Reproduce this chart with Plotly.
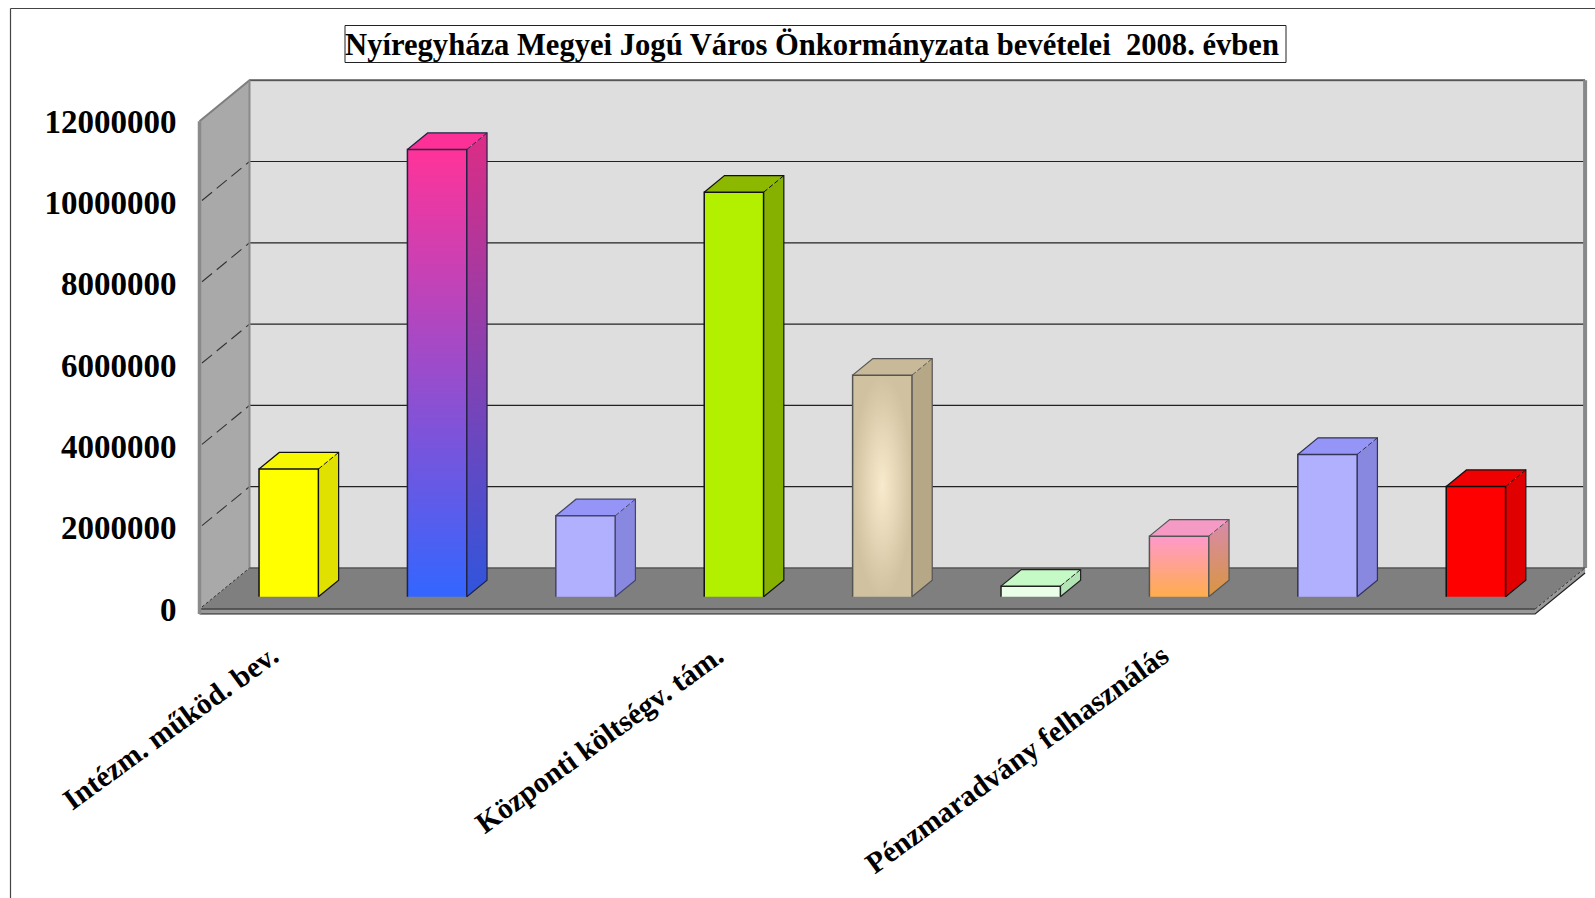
import plotly.graph_objects as go

TITLE = "Nyíregyháza Megyei Jogú Város Önkormányzata bevételei  2008. évben"
bar_positions = [0, 1, 2, 3, 4, 5, 6, 7, 8]
bar_values = [3140000, 11000000, 1990000, 9950000, 5450000, 260000, 1490000, 3500000, 2710000]
label_positions = [0, 3, 6]
label_texts = ["Intézm. működ. bev.", "Központi költségv. tám.", "Pénzmaradvány felhasználás"]
y_ticks = [0, 2000000, 4000000, 6000000, 8000000, 10000000, 12000000]

front_colors = [["#FFFF00"], ["#FF3399", "#3366FF"], ["#B0B0FF"], ["#B2F000"], ["radial", "#F8EACC", "#D0C2A0"],
                ["#EAFFE8"], ["#FF99CC", "#FFAD4D"], ["#B0B0FF"], ["#FF0000"]]
side_colors = [["#E1E100"], ["#DD2C85", "#2F55DD"], ["#8888E0"], ["#86B100"], ["#B6A887"],
               ["#B2E4B5"], ["#D88AAD", "#D8963F"], ["#8888E0"], ["#E00000"]]
top_colors = ["#F7F700", "#FC3097", "#9595F8", "#8CB800", "#C8B999", "#C5F9C5", "#F49AC4", "#9595F8", "#F00000"]
edge_colors = ["#111111", "#222244", "#444466", "#111111", "#555555", "#222222", "#555555", "#333355", "#111111"]

# Layout of the pseudo-3D projection
PITCH = 148.4          # pixels per category
PX_PER_2M = 81.3       # pixels per 2 000 000
FRONT_LEFT = 199.5
FRONT_ZERO = 609.0
PLOT_L, PLOT_R, PLOT_T, PLOT_B = 197, 1590, 78, 615
W, H = 1595, 898
DEPTH_X = 50 / PITCH
DEPTH_Y = 41 / PX_PER_2M * 2000000
SLAB = 5 / PX_PER_2M * 2000000
BAR_HALF = 0.2
BAR_D0, BAR_D1 = 0.30, 0.705
CAT_LO, CAT_HI = -0.5, 8.5
VAL_TOP = 12000000


def pr(c, v, d=0.0):
    return c + d * DEPTH_X, v + d * DEPTH_Y


def to_cat(px):
    return (px - FRONT_LEFT) / PITCH - 0.5


def to_val(py):
    return (FRONT_ZERO - py) / PX_PER_2M * 2000000


fig = go.Figure()


def poly(points, fill=None, line=None, width=0, closed=True, dash=None):
    xs = [p[0] for p in points]
    ys = [p[1] for p in points]
    if closed:
        xs.append(xs[0])
        ys.append(ys[0])
    kw = dict(x=xs, y=ys, mode="lines", hoverinfo="skip", showlegend=False, cliponaxis=False)
    if fill is not None:
        kw["fill"] = "toself"
        if isinstance(fill, list):
            if fill[0] == "radial":
                kw["fillgradient"] = dict(type="radial", colorscale=[[0, fill[1]], [1, fill[2]]])
                kw["fillcolor"] = fill[2]
            elif len(fill) == 2:
                kw["fillgradient"] = dict(type="vertical", colorscale=[[0, fill[1]], [1, fill[0]]])
            else:
                kw["fillcolor"] = fill[0]
        else:
            kw["fillcolor"] = fill
    kw["line"] = dict(width=width, color=line or "rgba(0,0,0,0)")
    if dash:
        kw["line"]["dash"] = dash
    fig.add_trace(go.Scatter(**kw))


# Back wall
poly([pr(CAT_LO, 0, 1), pr(CAT_HI, 0, 1), pr(CAT_HI, VAL_TOP, 1), pr(CAT_LO, VAL_TOP, 1)], fill="#DEDEDE")
# Left wall
poly([pr(CAT_LO, 0, 0), pr(CAT_LO, 0, 1), pr(CAT_LO, VAL_TOP, 1), pr(CAT_LO, VAL_TOP, 0)], fill="#A9A9A9")
# Floor
poly([pr(CAT_LO, 0, 0), pr(CAT_LO, 0, 1), pr(CAT_HI, 0, 1), pr(CAT_HI, 0, 0)], fill="#7F7F7F")
# Floor slab
poly([pr(CAT_LO, 0, 0), pr(CAT_HI, 0, 0), pr(CAT_HI, -SLAB, 0), pr(CAT_LO, -SLAB, 0)], fill="#999999")
poly([pr(CAT_HI, 0, 0), pr(CAT_HI, 0, 1), pr(CAT_HI, -SLAB, 1), pr(CAT_HI, -SLAB, 0)], fill="#999999")
poly([pr(CAT_LO, -SLAB, 0), pr(CAT_HI, -SLAB, 0), pr(CAT_HI, -SLAB, 1)], line="#222222", width=1.2, closed=False)
poly([pr(CAT_LO, 0, 0), pr(CAT_HI, 0, 0)], line="#444444", width=1.5, closed=False)

# Grid lines on the walls
for t in y_ticks[1:-1]:
    poly([pr(CAT_LO, t, 1), pr(CAT_HI, t, 1)], line="#222222", width=1.2, closed=False)
    poly([pr(CAT_LO, t, 0.05), pr(CAT_LO, t, 1)], line="#333333", width=1.1, closed=False, dash="13px,6px")
poly([pr(CAT_LO, 0, 0.05), pr(CAT_LO, 0, 1)], line="#333333", width=1, closed=False, dash="3px,2px")
poly([pr(CAT_HI, 0, 0), pr(CAT_HI, 0, 1)], line="#333333", width=1, closed=False, dash="3px,2px")
# Wall rims
poly([pr(CAT_LO, VAL_TOP, 0), pr(CAT_LO, VAL_TOP, 1), pr(CAT_HI, VAL_TOP, 1)], line="#7E7E7E", width=2, closed=False)
poly([pr(CAT_LO, VAL_TOP, 1), pr(CAT_HI, VAL_TOP, 1)], line="#444444", width=1, closed=False)
poly([pr(CAT_LO, VAL_TOP, 1), pr(CAT_LO, 0, 1)], line="#8A8A8A", width=2, closed=False)
poly([pr(CAT_LO, VAL_TOP, 0), pr(CAT_LO, -SLAB, 0)], line="#8A8A8A", width=3.5, closed=False)
poly([pr(CAT_HI, VAL_TOP, 1), pr(CAT_HI, 0, 1)], line="#888888", width=4, closed=False)
poly([pr(CAT_HI, 0, 1), pr(CAT_LO, 0, 1)], line="#555555", width=1.5, closed=False)

# Bars
for c, v, fc, sc, tc, ec in zip(bar_positions, bar_values, front_colors, side_colors, top_colors, edge_colors):
    l, r = c - BAR_HALF, c + BAR_HALF
    poly([pr(r, 0, BAR_D0), pr(r, 0, BAR_D1), pr(r, v, BAR_D1), pr(r, v, BAR_D0)], fill=sc)
    poly([pr(l, v, BAR_D0), pr(r, v, BAR_D0), pr(r, v, BAR_D1), pr(l, v, BAR_D1)], fill=tc)
    poly([pr(l, 0, BAR_D0), pr(r, 0, BAR_D0), pr(r, v, BAR_D0), pr(l, v, BAR_D0)], fill=fc)
    poly([pr(l, 0, BAR_D0), pr(l, v, BAR_D0), pr(r, v, BAR_D0), pr(r, 0, BAR_D0)], line=ec, width=1.5, closed=False)
    poly([pr(l, v, BAR_D0), pr(l, v, BAR_D1), pr(r, v, BAR_D1), pr(r, 0, BAR_D1), pr(r, 0, BAR_D0)],
         line=ec, width=1.2, closed=False)
    poly([pr(r, v, BAR_D0), pr(r, v, BAR_D1)], line=ec, width=1, closed=False, dash="5px,2px")

FONT = "Liberation Serif"
px_x = lambda px: (px - PLOT_L) / (PLOT_R - PLOT_L)
px_y = lambda py: (PLOT_B - py) / (PLOT_B - PLOT_T)

fig.update_layout(
    width=W, height=H, autosize=False,
    margin=dict(l=PLOT_L, r=W - PLOT_R, t=PLOT_T, b=H - PLOT_B, pad=0),
    paper_bgcolor="white", plot_bgcolor="white", showlegend=False,
    font=dict(family=FONT, color="black"),
    title=dict(text="<b>" + TITLE + "</b>", x=812 / W, xanchor="center", y=1 - 44 / H, yanchor="middle",
               xref="container", yref="container", font=dict(family=FONT, size=30.6, color="black")),
    xaxis=dict(range=[to_cat(PLOT_L), to_cat(PLOT_R)], showgrid=False, zeroline=False, showline=False,
               tickmode="array", tickvals=label_positions, ticktext=["<b>%s</b>" % s for s in label_texts],
               ticks="outside", tickangle=-36, ticklen=11, ticklabelshift=-2, tickcolor="rgba(0,0,0,0)",
               tickfont=dict(family=FONT, size=29.6, color="black")),
    yaxis=dict(range=[to_val(PLOT_B), to_val(PLOT_T)], showgrid=False, zeroline=False, showline=False,
               tickmode="array", tickvals=y_ticks, ticktext=["<b>%d</b>" % t for t in y_ticks],
               ticks="outside", ticklen=13, tickcolor="rgba(0,0,0,0)", tickfont=dict(family=FONT, size=33, color="black")),
    shapes=[
        dict(type="rect", xref="paper", yref="paper", x0=px_x(345), x1=px_x(1286), y0=px_y(62.5), y1=px_y(25.5),
             line=dict(color="#222222", width=1), fillcolor="rgba(0,0,0,0)"),
        dict(type="line", xref="paper", yref="paper", x0=px_x(10.5), x1=px_x(W), y0=px_y(8.5), y1=px_y(8.5),
             line=dict(color="#444444", width=1.2)),
        dict(type="line", xref="paper", yref="paper", x0=px_x(10.5), x1=px_x(10.5), y0=px_y(8.5), y1=px_y(H),
             line=dict(color="#444444", width=1.2)),
    ],
)

fig.write_html("out.html", config={"displayModeBar": False},
               post_script="document.body.style.margin='0';document.body.style.overflow='hidden';")
